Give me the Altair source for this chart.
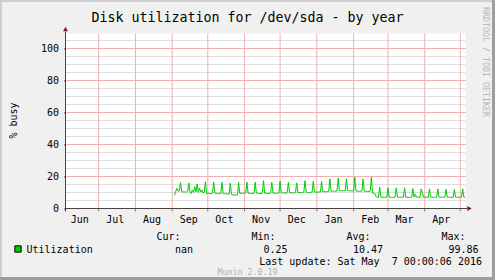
import altair as alt
import pandas as pd

# ---------------- data ----------------
sep_vals = [8.3, 10.8, 12.6, 10.6, 11.0, 16.2, 10.5, 10.2, 10.6, 10.1, 10.4, 10.7, 16.0, 10.2,
            9.4, 11.6, 10.1, 13.6, 10.4, 15.4, 10.0, 12.8, 10.3, 11.6, 9.7, 10.0, 16.7, 9.4]
oct_vals = [9.3, 9.5, 9.4, 9.2, 9.5, 16.4, 9.6, 9.4, 9.5, 9.3, 9.2, 9.4, 16.4, 9.3, 9.2, 9.4,
            9.0, 9.1, 9.0, 15.9, 8.9, 8.6, 8.5, 8.4, 8.3, 8.6, 16.2, 9.5, 9.6, 9.5, 9.6]
nov_vals = [9.5, 9.6, 16.4, 9.5, 9.4, 9.6, 9.5, 9.3, 9.5, 16.4, 9.6, 9.5, 9.4, 9.5, 9.3,
            9.6, 17.4, 9.5, 9.6, 9.4, 9.5, 9.4, 9.6, 16.4, 9.6, 9.7, 9.5, 9.6, 9.5, 9.7]
dec_vals = [17.0, 9.8, 9.7, 9.8, 9.6, 9.7, 9.8, 16.4, 9.9, 9.8, 9.9, 9.7, 9.8, 10.0, 16.0, 10.0,
            10.1, 9.9, 10.0, 10.1, 10.2, 17.4, 10.1, 10.0, 9.9, 10.0, 10.1, 10.2, 17.0, 10.2, 10.2]
jan_vals = [10.3, 10.2, 10.4, 10.3, 16.8, 10.5, 10.6, 10.4, 10.5, 10.6, 10.7, 18.5, 10.8, 10.7,
            10.9, 10.8, 10.9, 11.0, 19.1, 11.1, 11.2, 11.0, 11.1, 11.2, 11.1, 18.5, 11.2, 11.1,
            11.0, 11.1, 11.0]
feb_vals = [10.9, 19.5, 10.9, 10.8, 10.9, 10.7, 10.8, 10.9, 18.5, 10.8, 10.7, 10.8, 10.6, 10.7,
            10.8, 19.5, 9.6, 9.5, 9.2, 7.3, 7.1, 7.0, 13.3, 7.1, 7.0, 7.1, 7.0, 6.9, 7.0]
mar_vals = [12.9, 7.0, 7.1, 7.0, 6.9, 7.0, 7.1, 12.9, 7.1, 7.0, 7.1, 7.0, 7.1, 7.0, 12.9, 7.0,
            7.1, 7.0, 6.9, 7.0, 7.1, 12.5, 7.2, 9.0, 7.1, 7.0, 7.1, 7.0, 12.2, 10.0, 7.1]
apr_vals = [7.1, 7.0, 7.1, 7.0, 12.3, 7.1, 7.0, 7.1, 7.0, 6.9, 7.0, 12.3, 7.1, 7.0, 7.1, 7.0,
            7.1, 7.0, 12.0, 7.1, 7.0, 7.1, 7.0, 6.9, 7.0, 11.9, 7.1, 7.0, 7.1, 7.0]
may_vals = [7.1, 7.0, 12.3, 7.1, 7.0]

block_starts = ["2015-09-03", "2015-10-01", "2015-11-01", "2015-12-01", "2016-01-01",
                "2016-02-01", "2016-03-01", "2016-04-01", "2016-05-01"]
blocks = [sep_vals, oct_vals, nov_vals, dec_vals, jan_vals, feb_vals, mar_vals, apr_vals, may_vals]

grid_months = ["2015-07-01", "2015-08-01", "2015-09-01", "2015-10-01", "2015-11-01",
               "2015-12-01", "2016-01-01", "2016-02-01", "2016-03-01", "2016-04-01", "2016-05-01"]
month_names = ["Jun", "Jul", "Aug", "Sep", "Oct", "Nov", "Dec", "Jan", "Feb", "Mar", "Apr"]
month_mids = ["2015-06-15", "2015-07-15", "2015-08-15", "2015-09-15", "2015-10-15", "2015-11-15",
              "2015-12-15", "2016-01-15", "2016-02-15", "2016-03-15", "2016-04-15"]
y_major = [0, 20, 40, 60, 80, 100]
y_minor = [0, 5, 10, 15, 20, 25, 30, 35, 40, 45, 50, 55, 60, 65, 70, 75, 80, 85, 90, 95, 100, 105]

title_text = "Disk utilization for /dev/sda - by year"
y_title = "% busy"
legend_headers = ["Cur:", "Min:", "Avg:", "Max:"]
legend_values = ["nan", "0.25", "10.47", "99.86"]
series_name = "Utilization"
last_update = "Last update: Sat May \u00a07 00:00:06 2016"
version_text = "Munin 2.0.19"
side_text = "RRDTOOL / TOBI OETIKER"

# ---------------- tables ----------------
rows = []
for start, block in zip(block_starts, blocks):
    for d, v in zip(pd.date_range(start, periods=len(block), freq="D"), block):
        rows.append({"date": d.strftime("%Y-%m-%dT%H:%M:%S"), "busy": v})
line_df = pd.DataFrame(rows)
grid_df = pd.DataFrame({"d": [m + "T00:00:00" for m in grid_months]})
lab_df = pd.DataFrame({"d": [m + "T00:00:00" for m in month_mids], "m": month_names})
ymaj_df = pd.DataFrame({"v": y_major})
ymin_df = pd.DataFrame({"v": y_minor})

# ---------------- layout constants ----------------
OX, OY = 65.5, 33.5
W, H = 400, 175
FONT = "DejaVu Sans Mono"
GREEN = "#00CC00"
ARROW = "#7F1F1F"
AXIS = "#4A4040"

xscale = alt.Scale(domain=[alt.DateTime(year=2015, month=6, date=3),
                           alt.DateTime(year=2016, month=5, date=5, hours=9, minutes=20)])
yscale = alt.Scale(domain=[0, 109.375], nice=False)
yaxis_def = alt.Axis(values=y_major, title=None, domain=False, grid=False,
                     ticks=True, tickSize=2, tickColor=AXIS, labelFont=FONT,
                     labelFontSize=10, labelColor="#000000", labelPadding=5)


def one():
    return pd.DataFrame({"t": [0]})


def label(text, x, y, align="left", size=10, color="#000000", angle=0, baseline="alphabetic"):
    return alt.Chart(pd.DataFrame({"t": [text]})).mark_text(
        font=FONT, fontSize=size, color=color, align=align, baseline=baseline, angle=angle
    ).encode(x=alt.value(x - OX), y=alt.value(y - OY), text="t:N")


def box(x1, x2, y1, y2, color):
    return alt.Chart(one()).mark_rect(color=color).encode(
        x=alt.value(x1 - OX), x2=alt.value(x2 - OX), y=alt.value(y1 - OY), y2=alt.value(y2 - OY))


minor = alt.Chart(ymin_df).mark_rule(color="#DDDDDD", strokeWidth=1).encode(
    y=alt.Y("v:Q", scale=yscale, axis=yaxis_def))
major = alt.Chart(ymaj_df).mark_rule(color="#F2AFAF", strokeWidth=1).encode(
    y=alt.Y("v:Q", scale=yscale, axis=yaxis_def))
vgrid = alt.Chart(grid_df).mark_rule(color="#F2AFAF", strokeWidth=1).encode(
    x=alt.X("d:T", scale=xscale, axis=None))
xticks = alt.Chart(grid_df).mark_rule(color="#8A7A7A", strokeWidth=1).encode(
    x=alt.X("d:T", scale=xscale, axis=None), y=alt.value(H), y2=alt.value(H + 3))

line = alt.Chart(line_df).mark_line(color=GREEN, strokeWidth=1).encode(
    x=alt.X("date:T", scale=xscale, axis=None),
    y=alt.Y("busy:Q", scale=yscale, axis=yaxis_def))

xaxis = alt.Chart(one()).mark_rule(color=AXIS, strokeWidth=1).encode(
    x=alt.value(0), x2=alt.value(W + 2), y=alt.value(H))
yaxis = alt.Chart(one()).mark_rule(color=AXIS, strokeWidth=1).encode(
    x=alt.value(0), y=alt.value(-2), y2=alt.value(H + 3))
up_arrow = alt.Chart(one()).mark_point(shape="triangle-up", filled=True, size=25, color=ARROW,
                                       opacity=1).encode(x=alt.value(0), y=alt.value(-4.5))
right_arrow = alt.Chart(one()).mark_point(shape="triangle-right", filled=True, size=25,
                                          color=ARROW, opacity=1).encode(
    x=alt.value(W + 4), y=alt.value(H))

xlabels = alt.Chart(lab_df).mark_text(font=FONT, fontSize=10, color="#000000", align="center",
                                      baseline="alphabetic").encode(
    x=alt.X("d:T", scale=xscale, axis=None), y=alt.value(222.5 - OY), text="m:N")

texts = [
    label(title_text, 247.5, 21.5, align="center", size=13.3),
    label(y_title, 14, 120.5, align="center", angle=270, baseline="middle"),
    label(side_text, 485, 62, align="center", size=8.3, color="#B8B8B8", angle=90,
          baseline="middle"),
]
hdr_right = [180.5, 275.5, 370.5, 465.5]
val_right = [193, 287.5, 383, 478.5]
for t, xr in zip(legend_headers, hdr_right):
    texts.append(label(t, xr, 239.5, align="right"))
for t, xr in zip(legend_values, val_right):
    texts.append(label(t, xr, 252.5, align="right"))
texts.append(label(series_name, 26.5, 252.5))
texts.append(label(last_update, 482, 264.5, align="right"))
texts.append(label(version_text, 247.5, 274.5, align="center", size=8.3, color="#B0B0B0"))

legend_sq = alt.Chart(one()).mark_square(size=40, fill=GREEN, stroke="#000000", strokeWidth=1,
                                         opacity=1).encode(
    x=alt.value(18 - OX), y=alt.value(249 - OY))

frame = [
    box(0, 495, 0, 2, "#CFCFCF"),
    box(0, 2, 0, 280, "#CFCFCF"),
    box(0, 495, 277, 280, "#9E9E9E"),
    box(492, 495, 0, 280, "#9E9E9E"),
]

chart = alt.layer(
    minor, major, vgrid, xticks, line, xaxis, yaxis, up_arrow, right_arrow, xlabels,
    legend_sq, *texts, *frame
).properties(
    width=W, height=H,
    padding={"left": OX, "top": OY, "right": 495 - OX - W, "bottom": 280 - OY - H},
    autosize=alt.AutoSizeParams(type="none"),
    background="#F0F0F0",
).configure_view(fill="#FFFFFF", strokeWidth=0)

chart.save("out.html", embed_options={"renderer": "svg", "actions": False})
